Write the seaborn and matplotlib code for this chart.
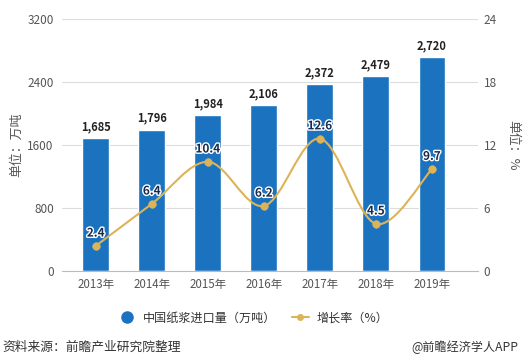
import numpy as np
import matplotlib.pyplot as plt
import seaborn as sns
from matplotlib.path import Path
from matplotlib.patches import PathPatch
from matplotlib.lines import Line2D
import matplotlib.patheffects as pe

years = ["2013年", "2014年", "2015年", "2016年", "2017年", "2018年", "2019年"]
imports = [1685, 1796, 1984, 2106, 2372, 2479, 2720]
growth = [2.4, 6.4, 10.4, 6.2, 12.6, 4.5, 9.7]
left_ticks = [0, 800, 1600, 2400, 3200]
right_ticks = [0, 6, 12, 18, 24]

sns.set_style("white")
plt.rcParams['font.family'] = ['Noto Sans CJK SC', 'DejaVu Sans']

BLUE = "#1b73c0"
GOLD = "#dcb457"
GRAY = "#555555"

fig = plt.figure(figsize=(5.31, 3.62), dpi=100)
ax = fig.add_axes([0.117, 0.251, 0.783, 0.697])

sns.barplot(x=years, y=imports, ax=ax, color=BLUE, width=0.48, saturation=1)
ax.set_xlim(-0.6, 6.82)
ax.set_ylim(0, 3200)
ax.set_yticks(left_ticks)
ax.set_yticklabels([str(t) for t in left_ticks])
for t in left_ticks[1:]:
    ax.axhline(t, color="#dcdcdc", lw=0.8, zorder=0)
for s in ["top", "right", "left"]:
    ax.spines[s].set_visible(False)
ax.spines["bottom"].set_color("#bbbbbb")
ax.spines["bottom"].set_linewidth(0.8)
ax.tick_params(axis="y", length=0, labelsize=8.5, colors=GRAY, pad=6)
ax.tick_params(axis="x", length=0, labelsize=8.3, colors=GRAY, pad=5)
ax.set_ylabel("单位：万吨", fontsize=9.3, color=GRAY, labelpad=3)
ax.set_xlabel("")

for i, v in enumerate(imports):
    ax.text(i, v + 60, f"{v:,}", ha="center", va="bottom", fontsize=8,
            fontweight="bold", color="#222222")

ax2 = ax.twinx()
ax2.set_ylim(0, 24)
ax2.set_yticks(right_ticks)
for s in ["top", "right", "left", "bottom"]:
    ax2.spines[s].set_visible(False)
ax2.tick_params(axis="y", length=0, labelsize=8.5, colors=GRAY, pad=4)
ax2.set_ylabel("单位：%", fontsize=9.3, color=GRAY, rotation=270, labelpad=16)

# smooth curve through the growth points (Catmull-Rom as cubic beziers)
xs = np.arange(len(growth), dtype=float)
ys = np.array(growth, dtype=float)
verts = [(xs[0], ys[0])]
codes = [Path.MOVETO]
n = len(xs)
for i in range(n - 1):
    p0 = np.array([xs[max(i - 1, 0)], ys[max(i - 1, 0)]])
    p1 = np.array([xs[i], ys[i]])
    p2 = np.array([xs[i + 1], ys[i + 1]])
    p3 = np.array([xs[min(i + 2, n - 1)], ys[min(i + 2, n - 1)]])
    c1 = p1 + (p2 - p0) / 6
    c2 = p2 - (p3 - p1) / 6
    verts += [tuple(c1), tuple(c2), tuple(p2)]
    codes += [Path.CURVE4] * 3
ax2.add_patch(PathPatch(Path(verts, codes), fill=False, edgecolor=GOLD, lw=1.5, zorder=3))
sns.scatterplot(x=xs, y=ys, ax=ax2, color=GOLD, s=30, edgecolor=GOLD, zorder=4, legend=False)

for i, v in enumerate(growth):
    ax2.text(i, v + 0.6, f"{v}", ha="center", va="bottom", fontsize=8.5,
             fontweight="bold", color="#1a2a4a", zorder=5,
             path_effects=[pe.withStroke(linewidth=2, foreground="white")])

handles = [
    Line2D([], [], marker="o", color=BLUE, lw=0, markersize=8),
    Line2D([], [], marker="o", color=GOLD, lw=1.5, markersize=4),
]
fig.legend(handles, ["中国纸浆进口量（万吨）", "增长率（%）"], loc="center",
           bbox_to_anchor=(0.477, 0.121), ncol=2, frameon=False, fontsize=8.7,
           handlelength=1.4, handletextpad=0.6, columnspacing=1.3,
           labelcolor="#333333")

fig.text(0.004, 0.04, "资料来源：前瞻产业研究院整理", fontsize=9.2, color="#333333", va="center")
fig.text(0.977, 0.04, "@前瞻经济学人APP", fontsize=8.7, color="#333333", va="center", ha="right")

fig.savefig("out.png", dpi=100)
